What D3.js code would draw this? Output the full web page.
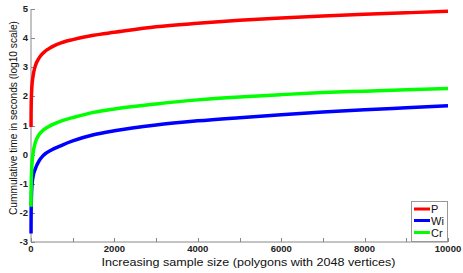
<!DOCTYPE html>
<html><head><meta charset="utf-8">
<script src="https://cdn.jsdelivr.net/npm/d3@7"></script>
<style>body{margin:0;background:#fff}svg{display:block}</style>
</head><body>
<script>
const sampleSizes = [1, 2, 5, 10, 20, 50, 100, 200, 300, 500, 750, 1000, 1500, 2000, 3000, 4000, 5000, 6000, 7000, 8000, 9000, 10000];
const seriesP  = [0.95, 1.3, 1.7, 2.0, 2.3, 2.7, 3.03, 3.33, 3.5, 3.7, 3.85, 3.95, 4.1, 4.2, 4.39, 4.51, 4.61, 4.69, 4.76, 4.82, 4.87, 4.92];
const seriesWi = [-2.71, -2.3, -1.8, -1.45, -1.1, -0.75, -0.5, -0.2, -0.02, 0.17, 0.33, 0.47, 0.68, 0.82, 1.02, 1.16, 1.27, 1.37, 1.46, 1.54, 1.61, 1.68];
const seriesCr = [-1.79, -1.43, -1.03, -0.73, -0.4, 0.05, 0.4, 0.7, 0.85, 1.02, 1.17, 1.27, 1.45, 1.57, 1.74, 1.88, 1.98, 2.06, 2.13, 2.18, 2.23, 2.27];
const seriesNames = ["P", "Wi", "Cr"];
const seriesColors = ["#ff0000", "#0000ff", "#00ff00"];
const xTickLabels = [0, 2000, 4000, 6000, 8000, 10000];
const xMinorTicks = [1000, 3000, 5000, 7000, 9000];
const yTickLabels = [-3, -2, -1, 0, 1, 2, 3, 4, 5];
const xTitle = "Increasing sample size (polygons with 2048 vertices)";
const yTitle = "Cummulative time in seconds (log10 scale)";

const W = 463, H = 273;
const svg = d3.select("body").append("svg").attr("width", W).attr("height", H);
const x = d3.scaleLinear().domain([0, 10000]).range([31, 448]);
const y = d3.scaleLinear().domain([-3, 5]).range([242, 9]);
const axisColor = "#888";
const fontTick = "'Liberation Sans', Arial, sans-serif";

svg.append("line").attr("x1", x(0)).attr("x2", x(10000)).attr("y1", y(-3)).attr("y2", y(-3)).attr("stroke", axisColor).attr("stroke-width", 1);
svg.append("line").attr("x1", x(0)).attr("x2", x(0)).attr("y1", y(-3)).attr("y2", y(5)).attr("stroke", axisColor).attr("stroke-width", 1);

const xAll = xTickLabels.concat(xMinorTicks);
svg.selectAll(".xt").data(xAll).enter().append("line")
  .attr("x1", d => Math.round(x(d)) + 0.5).attr("x2", d => Math.round(x(d)) + 0.5)
  .attr("y1", y(-3)).attr("y2", y(-3) - 4).attr("stroke", axisColor);
svg.selectAll(".xl").data(xTickLabels).enter().append("text")
  .attr("x", d => x(d)).attr("y", y(-3) + 10)
  .attr("text-anchor", "middle").attr("font-family", fontTick).attr("font-weight", "bold")
  .attr("font-size", 9.5).attr("fill", "#222").text(d => d);

svg.selectAll(".yt").data(yTickLabels).enter().append("line")
  .attr("x1", x(0)).attr("x2", x(0) + 4)
  .attr("y1", d => Math.round(y(d)) + 0.5).attr("y2", d => Math.round(y(d)) + 0.5).attr("stroke", axisColor);
svg.selectAll(".yl").data(yTickLabels).enter().append("text")
  .attr("x", x(0) - 3).attr("y", d => y(d) + 3)
  .attr("text-anchor", "end").attr("font-family", fontTick).attr("font-weight", "bold")
  .attr("font-size", 9.5).attr("fill", "#222").text(d => d);

svg.append("text").attr("x", 248.5).attr("y", 266).attr("text-anchor", "middle")
  .attr("font-family", fontTick).attr("font-size", 11.5).attr("fill", "#111")
  .attr("textLength", 294).attr("lengthAdjust", "spacingAndGlyphs").text(xTitle);
svg.append("text").attr("transform", "translate(17,118) rotate(-90)").attr("text-anchor", "middle")
  .attr("font-family", "'Liberation Sans Narrow', 'Liberation Sans', Arial, sans-serif").attr("font-size", 11.5).attr("fill", "#111")
  .attr("textLength", 194).attr("lengthAdjust", "spacingAndGlyphs").text(yTitle);

const allSeries = [seriesP, seriesWi, seriesCr];
const line = d3.line().x((d, i) => x(sampleSizes[i])).y(d => y(d)).curve(d3.curveMonotoneX);
allSeries.forEach((s, k) => {
  svg.append("path").attr("d", line(s)).attr("fill", "none")
    .attr("stroke", seriesColors[k]).attr("stroke-width", 3.5).attr("stroke-linejoin", "round");
});

const lg = svg.append("g");
lg.append("rect").attr("x", 411.5).attr("y", 201.5).attr("width", 36).attr("height", 40)
  .attr("fill", "#fff").attr("stroke", "#999").attr("stroke-width", 1);
const legY = [209, 220.5, 232.5];
seriesNames.forEach((n, i) => {
  lg.append("line").attr("x1", 414).attr("x2", 430).attr("y1", legY[i]).attr("y2", legY[i])
    .attr("stroke", seriesColors[i]).attr("stroke-width", 3);
  lg.append("text").attr("x", 431).attr("y", legY[i] + 4).attr("font-family", fontTick)
    .attr("font-size", 11).attr("fill", "#111").text(n);
});
</script>
</body></html>
